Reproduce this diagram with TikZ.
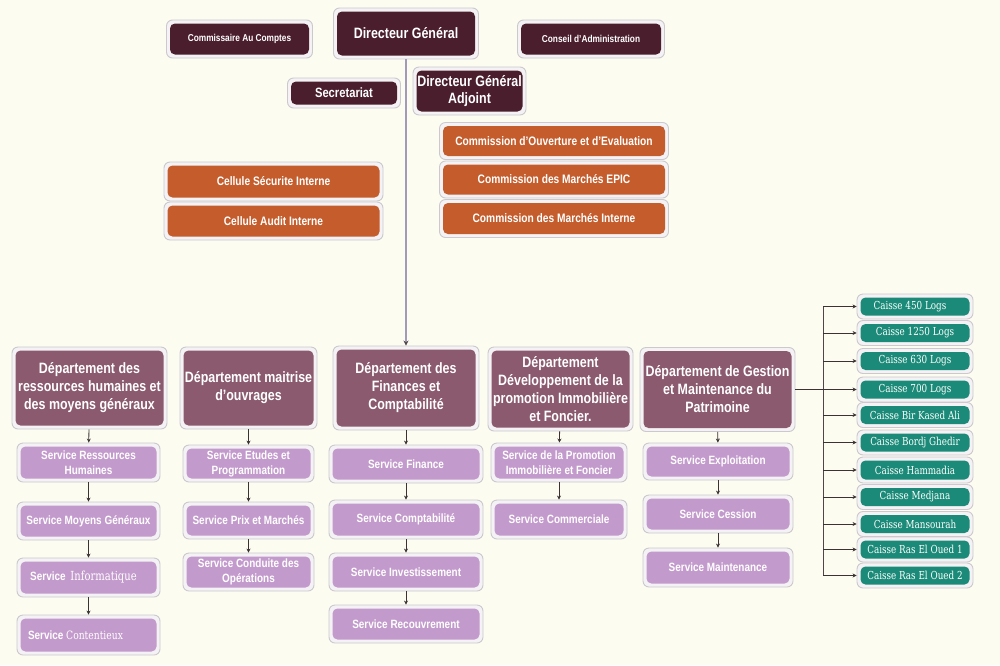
\documentclass[tikz,border=0pt]{standalone}
\usepackage{fontspec}
\setmainfont{Liberation Sans}[FakeStretch=0.83]
\newfontfamily\cserif{DejaVu Serif}[FakeStretch=0.8]
\usetikzlibrary{arrows.meta}
\definecolor{bgc}{HTML}{FDFCF0}
\definecolor{maroon}{HTML}{4A1E2D}
\definecolor{mauve}{HTML}{8B5A6E}
\definecolor{lilac}{HTML}{C39ACC}
\definecolor{orng}{HTML}{C45C2C}
\definecolor{teal}{HTML}{1C8A78}
\definecolor{framefill}{HTML}{F4F2F4}
\definecolor{framedraw}{HTML}{CCC8CE}
\definecolor{mainline}{HTML}{A29AB8}
\definecolor{arrc}{HTML}{3B3333}
\tikzset{
  frame/.style={draw=framedraw, fill=framefill, line width=0.9pt, rounded corners=6pt, inner sep=0pt},
  inbox/.style={rounded corners=5pt, inner sep=0pt, align=center, text=white, font=\bfseries},
  arr/.style={draw=arrc, line width=0.8pt, -{Stealth[length=4pt,width=4pt]}},
  mainarr/.style={draw=mainline, line width=1.6pt, -{Stealth[length=5pt,width=5pt,color=arrc!80!mainline]}},
  cline/.style={draw=arrc!90!white, line width=1pt},
  topfont/.style={font=\bfseries\fontsize{15}{17}\selectfont},
  smallfont/.style={font=\bfseries\fontsize{10}{12}\selectfont},
  orfont/.style={font=\bfseries\fontsize{12.3}{14}\selectfont},
  depfont/.style={font=\bfseries\fontsize{15}{18}\selectfont},
  svfont/.style={font=\bfseries\fontsize{12}{15}\selectfont},
  cafont/.style={font=\cserif\fontsize{11}{12}\selectfont},
}
% name, cx, cy, w, h, colour, style, text
\newcommand{\obox}[8]{%
  \node[frame, minimum width=#4, minimum height=#5] (#1) at (#2,#3) {};
  \node[inbox, fill=#6, minimum width=#4-7, minimum height=#5-7, #7] (#1in) at (#2,#3) {#8};
}
\begin{document}
\begin{tikzpicture}[x=1pt,y=-1pt]
\fill[bgc] (0,0) rectangle (1000,665);
\useasboundingbox (0,0) rectangle (1000,665);

% top level
\obox{cac}{239.5}{39}{146}{38}{maroon}{smallfont}{Commissaire Au Comptes}
\obox{dg}{406}{33.5}{145}{51}{maroon}{topfont}{Directeur Général}
\obox{cda}{591}{39}{147}{38}{maroon}{smallfont}{Conseil d'Administration}
\obox{sec}{344}{93}{113}{30}{maroon}{font=\bfseries\fontsize{13.5}{16}\selectfont}{Secretariat}
\obox{dga}{469.5}{91}{113}{48}{maroon}{font=\bfseries\fontsize{15}{17}\selectfont}{Directeur Général\\Adjoint}

% orange
\obox{cov}{554}{141}{229}{37}{orng}{orfont}{Commission d'Ouverture et d'Evaluation}
\obox{cme}{554}{179.5}{229}{37}{orng}{orfont}{Commission des Marchés EPIC}
\obox{cmi}{554}{218.5}{229}{38}{orng}{orfont}{Commission des Marchés Interne}
\obox{csi}{273.5}{181.5}{219}{39}{orng}{orfont}{Cellule Sécurite Interne}
\obox{cai}{273.5}{221}{219}{38}{orng}{orfont}{Cellule Audit Interne}

% departments
\obox{drh}{89.5}{388}{155}{82}{mauve}{depfont}{Département des\\ressources humaines et\\des moyens généraux}
\obox{dmo}{248.5}{388}{137}{82}{mauve}{depfont}{Département maitrise\\d’ouvrages}
\obox{dfc}{406}{388}{146}{84}{mauve}{depfont}{Département des\\Finances et\\Comptabilité}
\obox{ddp}{560.5}{389}{145}{84}{mauve}{depfont}{Département\\Développement de la\\promotion Immobilière\\et Foncier.}
\obox{dgm}{717.5}{389.5}{155}{84}{mauve}{depfont}{Département de Gestion\\et Maintenance du\\Patrimoine}

% services
\obox{srh}{88.5}{462.5}{143}{39}{lilac}{svfont}{Service Ressources\\Humaines}
\obox{smg}{88.5}{521}{143}{38}{lilac}{svfont}{Service Moyens Généraux}
\obox{sinf}{88.5}{577.5}{143}{39}{lilac}{svfont}{Service\, {\cserif\mdseries\fontsize{12.5}{14}\selectfont Informatique}\hspace*{10pt}}
\obox{scont}{88.5}{635}{143}{40}{lilac}{svfont}{Service {\cserif\mdseries\fontsize{11.5}{14}\selectfont Contentieux}\hspace*{26pt}}

\obox{set}{248.5}{463.5}{131}{37}{lilac}{svfont}{Service Etudes et\\Programmation}
\obox{spm}{248.5}{520.5}{131}{37}{lilac}{svfont}{Service Prix et Marchés}
\obox{scd}{248.5}{572}{131}{38}{lilac}{svfont}{Service Conduite des\\Opérations}

\obox{sfin}{406}{464}{154}{38}{lilac}{svfont}{Service Finance}
\obox{scpt}{406}{519.5}{154}{39}{lilac}{svfont}{Service Comptabilité}
\obox{sinv}{406}{572}{154}{38}{lilac}{svfont}{Service Investissement}
\obox{srec}{406}{624}{154}{38}{lilac}{svfont}{Service Recouvrement}

\obox{spi}{559}{462.5}{136}{39}{lilac}{svfont}{Service de la Promotion\\Immobilière et Foncier}
\obox{scom}{559}{519.5}{136}{39}{lilac}{svfont}{Service Commerciale}

\obox{sexp}{718}{461.5}{150}{37}{lilac}{svfont}{Service Exploitation}
\obox{sces}{718}{514}{150}{38}{lilac}{svfont}{Service Cession}
\obox{smnt}{718}{567.5}{150}{39}{lilac}{svfont}{Service Maintenance}

% caisses
\obox{c1}{915}{306.5}{116}{25}{teal}{cafont}{Caisse 450 Logs\hspace*{10pt}}
\obox{c2}{915}{333}{116}{25}{teal}{cafont}{Caisse 1250 Logs}
\obox{c3}{915}{361}{116}{25}{teal}{cafont}{Caisse 630 Logs}
\obox{c4}{915}{389.5}{116}{25}{teal}{cafont}{Caisse 700 Logs}
\obox{c5}{915}{415}{116}{25}{teal}{cafont}{Caisse Bir Kased Ali}
\obox{c6}{915}{442.5}{116}{25}{teal}{cafont}{Caisse Bordj Ghedir}
\obox{c7}{915}{470}{116}{26}{teal}{cafont}{Caisse Hammadia}
\obox{c8}{915}{497}{116}{25}{teal}{cafont}{Caisse Medjana}
\obox{c9}{915}{524}{116}{25}{teal}{cafont}{Caisse Mansourah}
\obox{c10}{915}{549.5}{116}{25}{teal}{cafont}{Caisse Ras El Oued 1}
\obox{c11}{915}{575.5}{116}{25}{teal}{cafont}{Caisse Ras El Oued 2}

% main line
\draw[mainarr] (dg.south) -- (dfc.north);

% department to service arrows
\draw[arr] (drh) -- (srh);
\draw[arr] (srh) -- (smg);
\draw[arr] (smg) -- (sinf);
\draw[arr] (sinf) -- (scont);
\draw[arr] (dmo) -- (set);
\draw[arr] (set) -- (spm);
\draw[arr] (spm) -- (scd);
\draw[arr] (dfc) -- (sfin);
\draw[arr] (sfin) -- (scpt);
\draw[arr] (scpt) -- (sinv);
\draw[arr] (sinv) -- (srec);
\draw[arr] (ddp) -- (spi);
\draw[arr] (spi) -- (scom);
\draw[arr] (dgm) -- (sexp);
\draw[arr] (sexp) -- (sces);
\draw[arr] (sces) -- (smnt);

% caisse bus
\coordinate (bt) at (823,306.5);
\coordinate (bb) at (823,575.5);
\draw[cline] (bt) -- (bb);
\draw[arr, line width=1pt] (dgm.east) -- (c4.west);
\foreach \c in {c1,c2,c3,c5,c6,c7,c8,c9,c10,c11}
  \draw[arr, line width=1pt] (bt |- \c.west) -- (\c.west);
\end{tikzpicture}
\end{document}
